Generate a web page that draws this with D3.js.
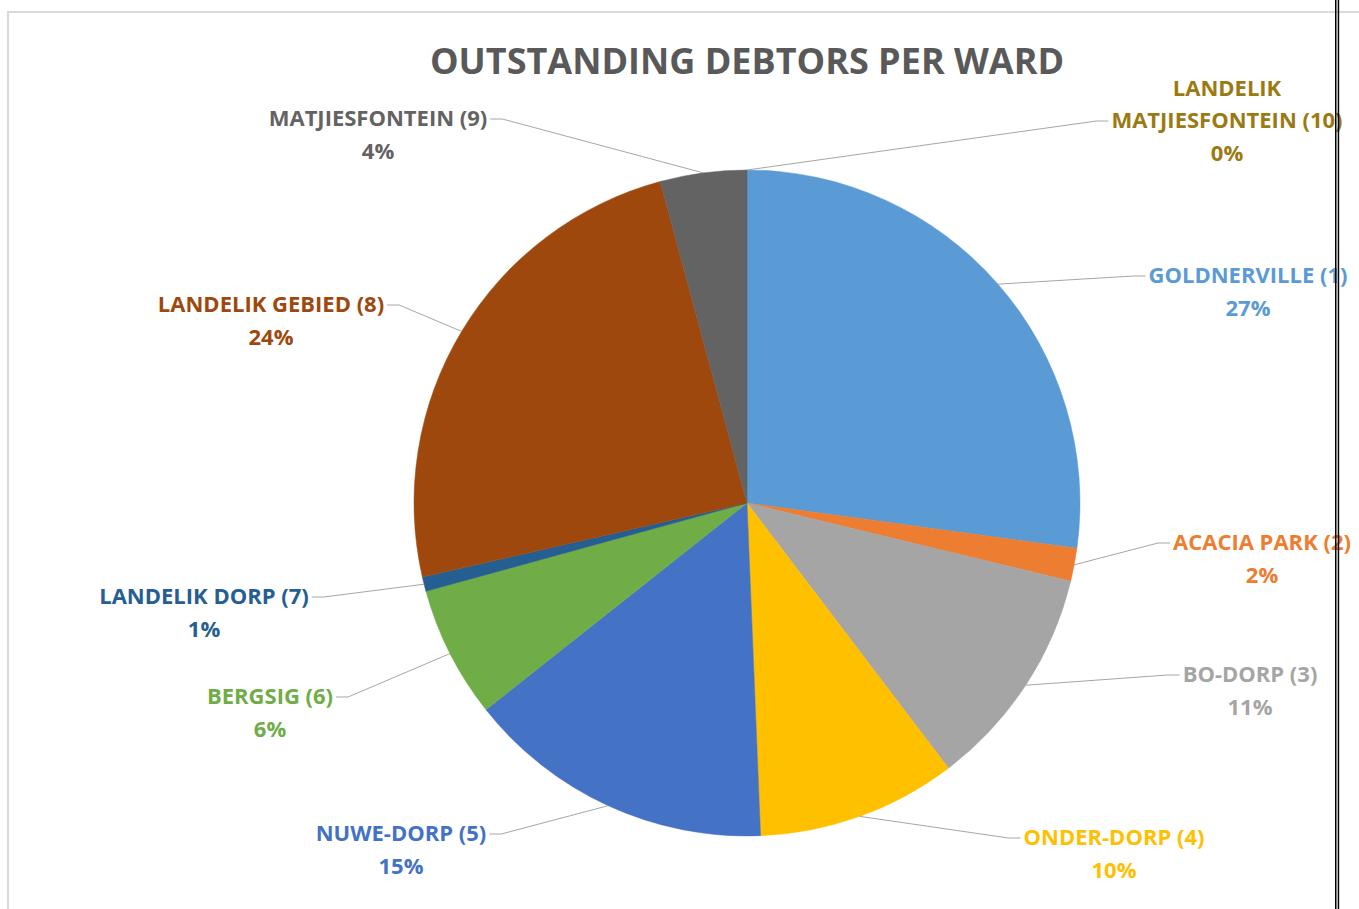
<!DOCTYPE html>
<html lang="en">
<head>
    <meta charset="UTF-8">
    <title>Outstanding debtors per ward</title>
    <style>
     body { margin: 0; background: #fff; }
     svg text { font-family: "Open Sans", "Liberation Sans", sans-serif; font-weight: 700; }
     .leader { fill: none; stroke: #a6a6a6; stroke-width: 1px; }
    </style>
</head>
<body>
    <div id="chart"></div>

    <script src="https://d3js.org/d3.v7.min.js"></script>
    <script>
    // ward names (lines of the label), share of debt (%)
    var wards = [["GOLDNERVILLE (1)"], ["ACACIA PARK (2)"], ["BO-DORP (3)"], ["ONDER-DORP (4)"],
                 ["NUWE-DORP (5)"], ["BERGSIG (6)"], ["LANDELIK DORP (7)"], ["LANDELIK GEBIED (8)"],
                 ["MATJIESFONTEIN (9)"], ["LANDELIK", "MATJIESFONTEIN (10)"]];
    var values = [27.2, 1.6, 10.9, 9.7, 15.0, 6.4, 0.7, 24.4, 4.2, 0];
    var colors = ["#5b9bd5", "#ed7d31", "#a5a5a5", "#ffc000", "#4472c4",
                  "#70ad47", "#255e91", "#9e480e", "#636363", "#997300"];
    var textColors = ["#5b9bd5", "#ed7d31", "#a5a5a5", "#ffc000", "#4472c4",
                      "#70ad47", "#255e91", "#9e480e", "#636363", "#9c7a12"];
    // label centre (x), baseline of the name line (y), side the leader joins
    var labelPos = [[1248, 283, "left"], [1262, 550, "left"], [1250, 682, "left"], [1114, 845, "left"],
                    [401, 841, "right"], [270, 704, "right"], [204, 604, "right"], [271, 312, "right"],
                    [378, 126, "right"], [1227, 128, "left"]];

    var width = 1359, height = 909;
    var cx = 747, cy = 503, radius = 333;

    var svg = d3.select("#chart").append("svg")
                .attr("width", width)
                .attr("height", height);

    // chart frame
    svg.append("rect")
       .attr("x", 8).attr("y", 12)
       .attr("width", 1400).attr("height", 1000)
       .attr("fill", "#fff")
       .attr("stroke", "#d9d9d9")
       .attr("stroke-width", 2);

    svg.append("text")
       .attr("x", cx).attr("y", 74)
       .attr("text-anchor", "middle")
       .attr("fill", "#595959")
       .style("font-size", "36px")
       .text("OUTSTANDING DEBTORS PER WARD");

    var total = d3.sum(values);
    var data = values.map(function(v, i){ return {name: wards[i], value: v, i: i}; });

    var pie = d3.pie().sort(null).value(function(d){ return d.value; });
    var arcs = pie(data);
    var arc = d3.arc().innerRadius(0).outerRadius(radius);
    var edge = d3.arc().innerRadius(radius).outerRadius(radius);

    var g = svg.append("g").attr("transform", "translate(" + cx + "," + cy + ")");

    g.selectAll("path.slice")
     .data(arcs.filter(function(d){ return d.value > 0; }))
     .enter().append("path")
     .attr("class", "slice")
     .attr("d", arc)
     .attr("fill", function(d){ return colors[d.data.i]; })
     .attr("stroke", function(d){ return colors[d.data.i]; })
     .attr("stroke-width", 0.5);

    //labels
    var labels = svg.append("g");
    arcs.forEach(function(d){
        var i = d.data.i, p = labelPos[i];
        var lines = d.data.name.concat([Math.round(d.value / total * 100) + "%"]);
        var t = labels.append("text")
                      .attr("text-anchor", "middle")
                      .attr("fill", textColors[i])
                      .style("font-size", "22px");
        lines.forEach(function(s, k){
            t.append("tspan").attr("x", p[0]).attr("y", p[1] + (k - (lines.length - 2)) * 32.5).text(s);
        });
        // leader attaches to the side of the line that holds the ward number
        var nameLine = t.selectAll("tspan").nodes()[lines.length - 2];
        var w = nameLine.getComputedTextLength();
        var ey = p[1] - 7;
        var ex = p[2] === "left" ? p[0] - w / 2 - 3 : p[0] + w / 2 + 3;
        var elbow = p[2] === "left" ? ex - 12 : ex + 12;
        var s = edge.centroid(d);
        labels.append("path")
              .attr("class", "leader")
              .attr("d", d3.line()([[cx + s[0], cy + s[1]], [elbow, ey], [ex, ey]]));
    });

    // black double rule on the right
    svg.append("rect").attr("x", 1335).attr("y", 0).attr("width", 1.5).attr("height", height).attr("fill", "#000");
    svg.append("rect").attr("x", 1337.7).attr("y", 0).attr("width", 1.5).attr("height", height).attr("fill", "#000");
    </script>
</body>
</html>
